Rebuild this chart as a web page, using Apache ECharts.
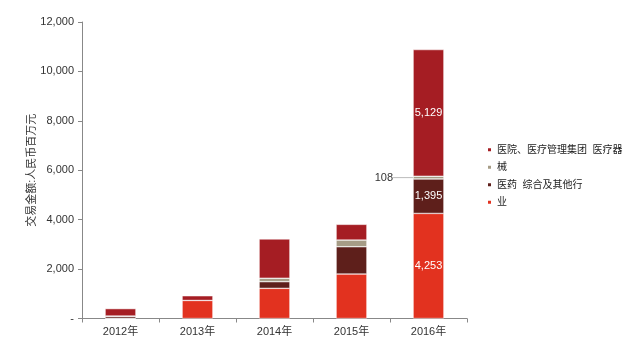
<!DOCTYPE html>
<html><head><meta charset="utf-8">
<script src="https://cdn.jsdelivr.net/npm/echarts@6/dist/echarts.min.js"></script>
<style>html,body{margin:0;padding:0;background:#fff}#c{width:640px;height:361px}</style>
</head><body><div id="c"></div>
<script>
var categories = ['2012年','2013年','2014年','2015年','2016年'];
var hospital = [300, 190, 1590, 635, 5129];
var equipment = [10, 0, 140, 270, 108];
var pharma = [80, 0, 270, 1105, 1395];
var other = [10, 730, 1220, 1800, 4253];
var seriesNames = ['医院、医疗管理集团  医疗器', '械', '医药  综合及其他行', '业'];
var yTicks = {min: 0, max: 12000, interval: 2000};

var font = 'Liberation Sans, Arial, Noto Sans CJK SC, sans-serif';
var chart = echarts.init(document.getElementById('c'));
function fmt(v){ return v === 0 ? '-' : v.toLocaleString('en-US'); }
function inLabel(arr){
  return arr.map(function(v,i){
    return i === 4 ? {value: v, label: {show: true, position: 'inside', color: '#fff', fontSize: 11, fontFamily: font, formatter: fmt(v)}} : v;
  });
}
var base = {type: 'bar', stack: 'a', barWidth: '40%'};
chart.setOption({
  animation: false,
  textStyle: {fontFamily: font},
  grid: {left: 82, right: 173, top: 22, bottom: 42.5},
  legend: {
    orient: 'vertical', left: 481, top: 139, itemWidth: 5, itemHeight: 5, itemGap: 6, itemTextGap: 3,
    icon: 'rect', textStyle: {fontSize: 10, lineHeight: 11.5, color: '#222', fontFamily: font},
    data: [seriesNames[0], seriesNames[1], seriesNames[2], seriesNames[3]]
  },
  xAxis: {
    type: 'category', data: categories,
    axisLine: {lineStyle: {color: '#888'}},
    axisTick: {show: true, length: 4, lineStyle: {color: '#888'}},
    axisLabel: {color: '#333', fontSize: 11, margin: 8, fontFamily: font}
  },
  yAxis: {
    type: 'value', min: yTicks.min, max: yTicks.max, interval: yTicks.interval,
    name: '交易金额:人民币百万元', nameLocation: 'middle', nameGap: 45, nameRotate: 90,
    nameMoveOverlap: false,
    nameTextStyle: {fontSize: 11, color: '#333', fontFamily: font},
    axisLine: {show: true, lineStyle: {color: '#888'}},
    axisTick: {show: true, length: 4, lineStyle: {color: '#888'}},
    splitLine: {show: false},
    axisLabel: {color: '#333', fontSize: 11, margin: 8, formatter: fmt, fontFamily: font}
  },
  series: [
    Object.assign({}, base, {name: seriesNames[3], data: inLabel(other), itemStyle: {color: '#E2321F', borderColor: '#fff', borderWidth: 0.5}}),
    Object.assign({}, base, {name: seriesNames[2], data: inLabel(pharma), itemStyle: {color: '#5E1F1B', borderColor: '#fff', borderWidth: 0.5}}),
    Object.assign({}, base, {name: seriesNames[1], itemStyle: {color: '#A69C86', borderColor: '#fff', borderWidth: 0.5},
      data: equipment.map(function(v,i){
        return i === 4 ? {value: v, label: {show: true, position: 'left', distance: 0, color: '#333', fontSize: 11, fontFamily: font, formatter: fmt(v)}} : v;
      }),
      labelLayout: function(p){ return p.dataIndex === 4 ? {dx: -20} : {}; },
      labelLine: {show: true, lineStyle: {color: '#bbb', width: 1}}
    }),
    Object.assign({}, base, {name: seriesNames[0], data: inLabel(hospital), itemStyle: {color: '#A51D23', borderColor: '#fff', borderWidth: 0.5}})
  ]
});
</script></body></html>
